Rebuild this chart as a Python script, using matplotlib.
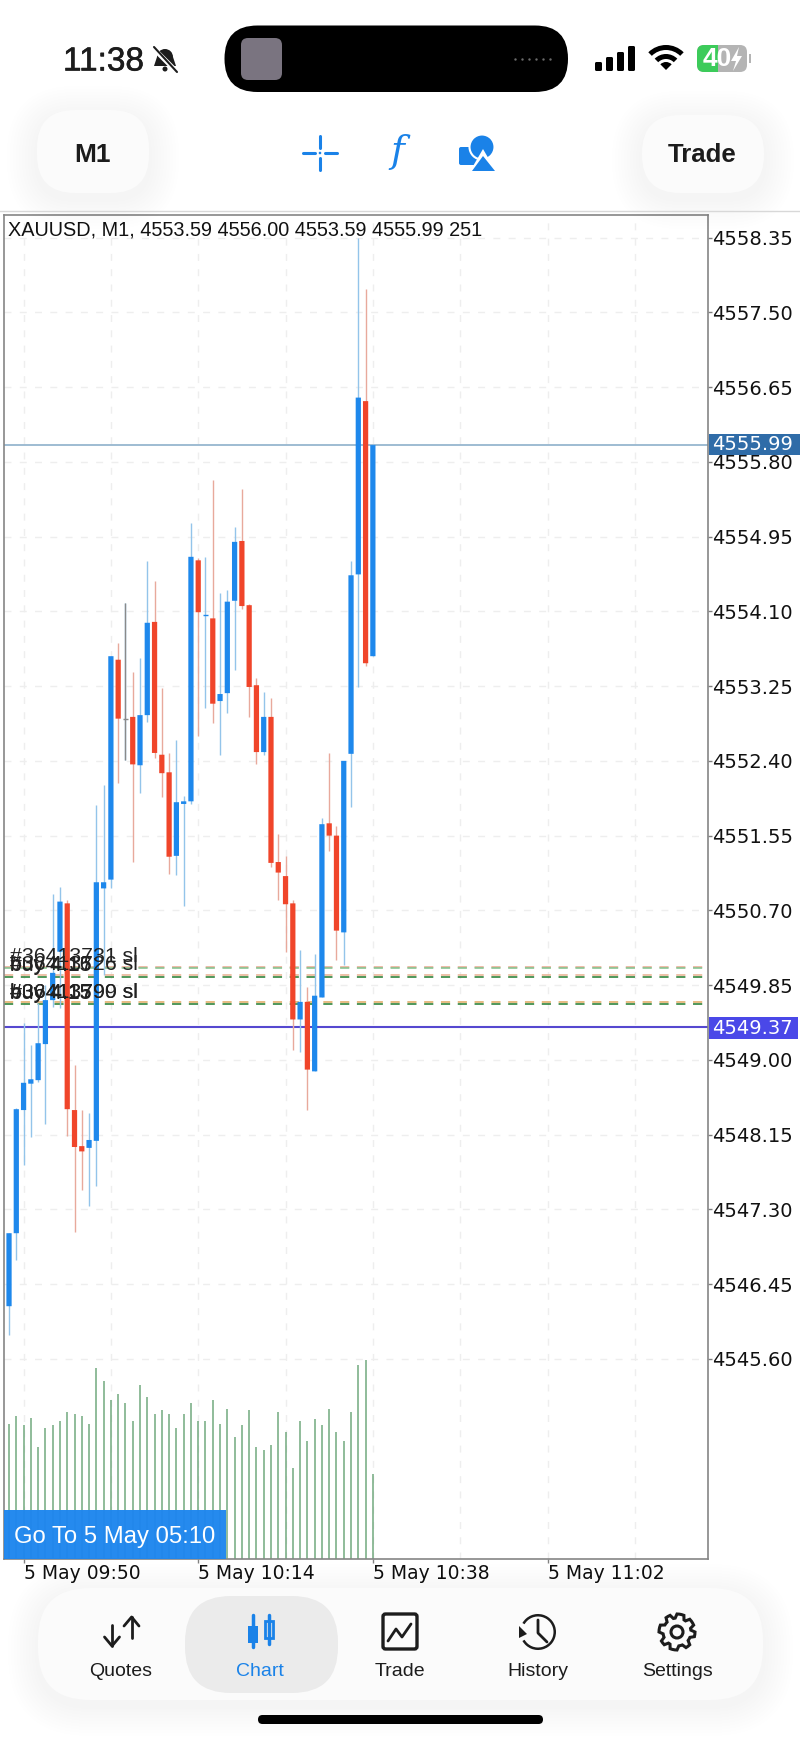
import numpy as np
import matplotlib
matplotlib.use("Agg")
import matplotlib.pyplot as plt
import matplotlib.patheffects as pe
from matplotlib.patches import FancyBboxPatch, Circle, Wedge, Polygon, Rectangle

plt.rcParams['font.family'] = ["Liberation Sans", "DejaVu Sans"]

# one minute bars starting at 09:48
opens = [4546.20, 4547.03, 4548.43, 4548.73, 4548.77, 4549.18, 4549.68, 4550.23, 4550.78, 4548.43,
         4548.02, 4548.00, 4548.08, 4550.95, 4551.05, 4553.55, 4552.88, 4552.90, 4552.35, 4552.92,
         4553.98, 4552.47, 4552.27, 4551.32, 4551.91, 4551.94, 4554.68, 4554.06, 4554.02, 4553.08,
         4553.17, 4554.22, 4554.90, 4554.17, 4553.26, 4552.50, 4552.90, 4551.25, 4551.09, 4550.78,
         4549.46, 4549.66, 4548.87, 4549.71, 4551.69, 4551.55, 4550.45, 4552.48, 4554.52, 4556.49,
         4553.59]
highs = [4547.03, 4548.45, 4549.42, 4549.17, 4549.65, 4549.85, 4550.89, 4550.97, 4550.82, 4548.94,
         4548.43, 4548.40, 4551.90, 4552.13, 4553.59, 4553.74, 4554.19, 4553.41, 4553.57, 4554.67,
         4554.45, 4553.23, 4552.49, 4552.64, 4552.00, 4555.10, 4554.71, 4554.72, 4555.59, 4554.31,
         4554.34, 4555.06, 4555.49, 4554.18, 4553.34, 4553.18, 4553.11, 4551.57, 4551.32, 4550.82,
         4550.25, 4549.83, 4550.20, 4551.75, 4552.49, 4551.66, 4552.40, 4554.67, 4558.34, 4557.76,
         4556.00]
lows = [4545.87, 4546.72, 4547.80, 4548.12, 4548.75, 4548.27, 4549.60, 4549.59, 4548.13, 4547.04,
        4547.52, 4547.34, 4547.57, 4549.97, 4550.95, 4552.15, 4552.41, 4551.25, 4552.03, 4552.84,
        4552.43, 4551.99, 4551.11, 4551.10, 4550.75, 4551.91, 4552.68, 4553.00, 4552.83, 4552.47,
        4552.94, 4553.43, 4554.13, 4552.90, 4552.36, 4552.47, 4551.19, 4550.82, 4550.23, 4549.11,
        4549.09, 4548.43, 4548.87, 4549.71, 4551.37, 4550.14, 4550.08, 4551.88, 4553.24, 4553.48,
        4553.59]
closes = [4547.03, 4548.44, 4548.74, 4548.78, 4549.19, 4549.68, 4549.99, 4550.80, 4548.44, 4548.01,
          4547.96, 4548.09, 4551.02, 4551.02, 4553.59, 4552.88, 4552.88, 4552.36, 4552.92, 4553.97,
          4552.49, 4552.26, 4551.31, 4551.93, 4551.94, 4554.72, 4554.09, 4554.06, 4553.05, 4553.16,
          4554.21, 4554.89, 4554.16, 4553.24, 4552.50, 4552.90, 4551.24, 4551.13, 4550.77, 4549.46,
          4549.66, 4548.89, 4549.73, 4551.68, 4551.55, 4550.47, 4552.40, 4554.51, 4556.53, 4553.51,
          4555.99]
volumes = [400, 422, 396, 417, 332, 386, 396, 407, 433, 428, 422, 400, 563, 525, 471, 487, 460,
           407, 514, 477, 428, 439, 428, 386, 428, 460, 407, 407, 471, 400, 444, 359, 396, 439,
           332, 321, 337, 433, 375, 268, 407, 347, 412, 396, 444, 375, 347, 433, 573, 589, 251]

price_ticks = [4558.35, 4557.50, 4556.65, 4555.80, 4554.95, 4554.10, 4553.25, 4552.40,
               4551.55, 4550.70, 4549.85, 4549.00, 4548.15, 4547.30, 4546.45, 4545.60]
time_ticks = [2, 26, 50, 74]
time_labels = ["5 May 09:50", "5 May 10:14", "5 May 10:38", "5 May 11:02"]
grid_minutes = [14, 38, 62, 86]

last_price = 4555.99
ask_price = 4549.37
order_levels = [4550.06, 4550.04, 4549.97, 4549.94, 4549.66, 4549.64]
order_colors = ["#eaa890", "#7fc08a", "#e8b090", "#1f7a2c", "#e0a860", "#1f7a2c"]
order_texts = [("#36413731 sl", 4550.11), ("#36413726 sl", 4550.02), ("buy 4.15", 4550.01),
               ("buy 4.16", 4550.02), ("#36413790 sl", 4549.70), ("#36413799 sl", 4549.70),
               ("buy 4.15", 4549.69), ("buy 4.15", 4549.70)]
header = "XAUUSD, M1, 4553.59 4556.00 4553.59 4555.99 251"

UP = "#1e88ec"
DOWN = "#f0452a"
UP_WICK = "#93c4ea"
DOWN_WICK = "#e8a99c"
BLUE = "#1a82e8"
DARK = "#1c1c1c"
W, H = 800, 1739
LEFT, RIGHT, TOP, BOTTOM = 4, 707.6, 215, 1559

fig = plt.figure(figsize=(W / 100, H / 100), dpi=100, facecolor="white")
rect = [LEFT / W, (H - BOTTOM) / H, (RIGHT - LEFT) / W, (BOTTOM - TOP) / H]
ax = fig.add_axes(rect, zorder=2)
ax.set_xlim(-0.69, 96)
ax.set_ylim(4543.326, 4558.606)
ax.set_facecolor("none")

# volume sits on its own scale under the price, grid goes below it
vax = fig.add_axes(rect, zorder=1)
vax.set_xlim(-0.69, 96)
vax.set_ylim(0, 3969)
vax.axis("off")
minutes = np.arange(len(opens))
gridstyle = dict(color="#eeeeee", lw=1.0, dashes=(5, 6), zorder=0)
for x in time_ticks + grid_minutes:
    vax.axvline(x, **gridstyle)
for y in price_ticks:
    ax.axhline(y, **gridstyle)
vax.vlines(minutes, 0, volumes, color="#72a97e", lw=1.1, zorder=2)

ax.axhline(last_price, color="#84a9c6", lw=1.1, zorder=1)
ax.axhline(ask_price, color="#5548d0", lw=1.5, zorder=1)
for lev, col in zip(order_levels, order_colors):
    ax.axhline(lev, color=col, lw=1.1, dashes=(6, 5), zorder=1)

opens_a, closes_a = np.array(opens), np.array(closes)
up = closes_a >= opens_a
ax.vlines(minutes, lows, highs, colors=[UP_WICK if u else DOWN_WICK for u in up], lw=1.0, zorder=2)
ax.vlines(16, lows[16], highs[16], color="#8a8a8a", lw=1.0, zorder=2)
ax.bar(minutes, np.abs(closes_a - opens_a), bottom=np.minimum(opens_a, closes_a), width=0.72,
       color=[UP if u else DOWN for u in up], zorder=3, snap=False)
ax.hlines(closes[16], 15.7, 16.3, color="#8a8a8a", lw=1.0, zorder=3)
ax.hlines(closes[27], 26.7, 27.3, color=UP, lw=1.0, zorder=3)

for txt, y in order_texts:
    ax.text(0.14, y, txt, fontsize=15.3, color="#222222", va="baseline", zorder=5)
ax.text(4 / (RIGHT - LEFT), 1 - 15 / (BOTTOM - TOP), header, transform=ax.transAxes, fontsize=14.3,
        color="#111111", va="center", zorder=5)

ax.yaxis.tick_right()
ax.set_yticks(price_ticks)
ax.set_yticklabels(["%.2f" % p for p in price_ticks], family="DejaVu Sans", fontsize=14, color="#111111")
ax.set_xticks(time_ticks)
ax.set_xticklabels(time_labels, family="DejaVu Sans", fontsize=13.5, color="#111111", ha="left")
ax.tick_params(axis="y", length=3, width=1, color="#808080", pad=0.5)
ax.tick_params(axis="x", length=3, width=1, color="#808080", pad=0.8)
for s in ax.spines.values():
    s.set_color("#858585")
    s.set_linewidth(1.2)

# everything around the chart is laid out in screen pixels
ui = fig.add_axes([0, 0, 1, 1], zorder=3)
ui.set_xlim(0, W)
ui.set_ylim(H, 0)
ui.axis("off")


def pill(x0, y0, x1, y1, r, color, shadow=True):
    if shadow:
        for grow in np.arange(30, 0, -3):
            ui.add_patch(FancyBboxPatch((x0 - grow, y0 - grow + 6), x1 - x0 + 2 * grow, y1 - y0 + 2 * grow,
                                        boxstyle="round,pad=0,rounding_size=%f" % (r + grow),
                                        fc="black", ec="none", alpha=0.0022))
    ui.add_patch(FancyBboxPatch((x0, y0), x1 - x0, y1 - y0, boxstyle="round,pad=0,rounding_size=%f" % r,
                                fc=color, ec="none"))


def stroke(xs, ys, color=DARK, lw=2.0):
    ui.plot(xs, ys, color=color, lw=lw, solid_capstyle="round", solid_joinstyle="round")


# go to button and price tags
ui.add_patch(Rectangle((4, 1510), 222, 49, fc="#1e86ee", ec="none", alpha=0.97))
ui.text(14, 1537, "Go To 5 May 05:10", color="white", fontsize=17.2, va="center")
ui.add_patch(Rectangle((709, 434), 91, 21, fc="#2f6ca8", ec="none"))
ui.text(712, 445, "4555.99", color="white", family="DejaVu Sans", fontsize=14, va="center")
ui.add_patch(Rectangle((709, 1017), 89, 22, fc="#4a48e8", ec="none"))
ui.text(712, 1028, "4549.37", color="white", family="DejaVu Sans", fontsize=14, va="center")

# status bar
ui.plot([0, W], [211, 211], color="#d8d8d8", lw=1.0)
ui.text(63, 62, "11:38", fontsize=24, color=DARK, va="center",
        path_effects=[pe.withStroke(linewidth=0.4, foreground=DARK)])
ui.add_patch(Wedge((165, 57), 8, 180, 360, fc=DARK, ec="none"))
ui.add_patch(Polygon([(157, 57), (173, 57), (176, 66), (154, 66)], fc=DARK, ec="none"))
ui.add_patch(Circle((165, 69), 2.5, fc=DARK, ec="none"))
stroke([153, 178], [48, 73], color="white", lw=3.5)
stroke([154, 177], [47, 72], lw=1.5)

pill(224.5, 25.5, 568, 92, 33, "black", shadow=False)
ui.add_patch(FancyBboxPatch((241, 38), 41, 42, boxstyle="round,pad=0,rounding_size=7", fc="#7a7480", ec="none"))
ui.scatter(np.linspace(515, 550, 6), [59] * 6, s=3, color="#6b6b6b", linewidths=0)

for bx, bh in zip([595, 606, 617, 628], [9, 14, 19, 25]):
    ui.add_patch(FancyBboxPatch((bx, 71 - bh), 7, bh, boxstyle="round,pad=0,rounding_size=1.5", fc="black", ec="none"))
for r, th in [(25, 5), (16, 5)]:
    ui.add_patch(Wedge((666, 70), r, 225, 315, width=th, fc="black", ec="none"))
ui.add_patch(Wedge((666, 70), 8, 225, 315, fc="black", ec="none"))

batt = FancyBboxPatch((697, 45), 50, 27, boxstyle="round,pad=0,rounding_size=7", fc="#b4b4b4", ec="none")
ui.add_patch(batt)
green = Rectangle((697, 45), 21, 27, fc="#3ccb5a", ec="none")
ui.add_patch(green)
green.set_clip_path(batt)
ui.add_patch(Rectangle((749, 54), 2, 9, fc="#b4b4b4", ec="none"))
ui.text(717, 59, "40", color="white", fontsize=19, fontweight="bold", ha="center", va="center")
ui.add_patch(Polygon([(739, 47), (731, 61), (736, 61), (733, 71), (742, 56), (737, 56)], fc="white", ec="none"))

# toolbar
pill(37, 110, 149, 193, 38, "#fbfbfb")
pill(642, 115, 764, 193, 38, "#fbfbfb")
ui.text(92, 155, "M1", fontsize=19, fontweight="bold", color=DARK, ha="center", va="center")
ui.text(702.5, 155, "Trade", fontsize=18.5, fontweight="bold", color=DARK, ha="center", va="center")

stroke([303, 315], [153, 153], BLUE, 2.2)
stroke([325, 337], [153, 153], BLUE, 2.2)
stroke([320, 320], [136, 148], BLUE, 2.2)
stroke([320, 320], [158, 170], BLUE, 2.2)
ui.add_patch(Circle((320, 153), 1.3, fc=BLUE, ec="none"))
ui.text(397, 152, "f", fontsize=27, style="italic", family="DejaVu Serif", color=BLUE, ha="center", va="center")

ui.add_patch(FancyBboxPatch((459, 147), 23, 18, boxstyle="round,pad=0,rounding_size=2", fc=BLUE, ec="none"))
ui.add_patch(Circle((482, 147), 12.5, fc=BLUE, ec="white", lw=1.5))
ui.add_patch(Polygon([(483, 149), (469, 173), (497, 173)], fc="white", ec="none"))
ui.add_patch(Polygon([(483, 156), (472, 171), (495, 171)], fc=BLUE, ec="none"))

# bottom tab bar
pill(38, 1588, 763, 1700, 52, "#fbfbfb")
pill(185, 1596, 338, 1693, 46, "#ebebeb", shadow=False)

tab_names = ["Quotes", "Chart", "Trade", "History", "Settings"]
tab_x = [121, 260, 399.5, 538, 677.5]
tab_colors = [DARK, BLUE, DARK, DARK, DARK]
for nm, tx, col in zip(tab_names, tab_x, tab_colors):
    ui.text(tx, 1672, nm, fontsize=14, color=col, ha="center", va="center")

stroke([131.6, 131.6], [1617, 1638])
stroke([124, 131.6, 139], [1626, 1617, 1626])
stroke([112, 112], [1625, 1646])
stroke([104.5, 112, 119.5], [1637, 1646, 1637])

stroke([252.5, 252.5], [1615, 1647], BLUE, 2.5)
ui.add_patch(Rectangle((248, 1626), 9.5, 17, fc=BLUE, ec="none"))
stroke([269, 269], [1615, 1644], BLUE, 2.5)
ui.add_patch(Rectangle((265, 1621), 8, 17, fc="#ebebeb", ec=BLUE, lw=2))

ui.add_patch(FancyBboxPatch((383, 1614), 34, 35, boxstyle="round,pad=0,rounding_size=2.5", fc="none", ec=DARK, lw=2.4))
stroke([388, 396, 402, 411], [1641, 1629, 1637, 1624], DARK, 2.0)

ui.add_patch(Wedge((538, 1632), 18, 210, 510, width=2.5, fc=DARK, ec="none"))
ui.add_patch(Polygon([(519, 1626), (527, 1634), (519, 1638)], fc=DARK, ec="none"))
stroke([538, 538, 547], [1620, 1633, 1642], DARK, 2.0)

ang = np.linspace(0, 2 * np.pi, 48, endpoint=False)
teeth = np.where(((ang / (2 * np.pi) * 48).astype(int) % 6) < 3, 18, 14)
ui.add_patch(Polygon(np.c_[677 + teeth * np.cos(ang), 1632 + teeth * np.sin(ang)], closed=True, fc="none", ec=DARK, lw=2.2))
ui.add_patch(Circle((677, 1632), 6, fc="none", ec=DARK, lw=2.2))

ui.add_patch(FancyBboxPatch((258, 1715), 285, 9, boxstyle="round,pad=0,rounding_size=4.5", fc="black", ec="none"))

fig.savefig("out.png", dpi=100)
